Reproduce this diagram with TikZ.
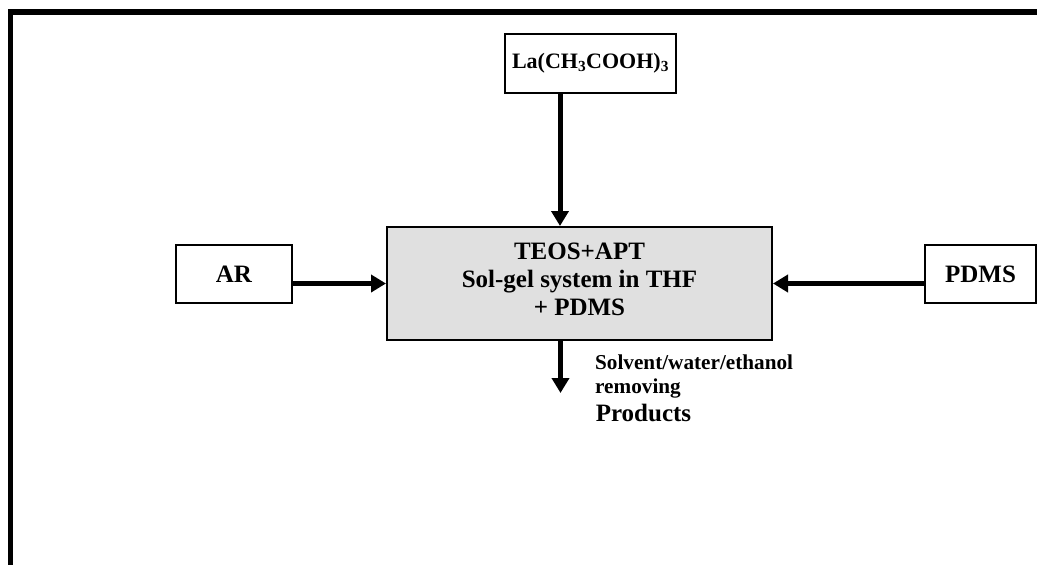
\documentclass[tikz,border=0pt]{standalone}
\usepackage{fontspec}
\setmainfont{Liberation Serif}
\usetikzlibrary{arrows.meta,positioning}

\tikzset{
    box/.style={draw, line width=2pt, inner sep=0pt, align=center,
        font=\fontsize{25}{28.3}\selectfont\bfseries},
    flow/.style={line width=5pt, -{Triangle[length=15pt,width=17pt]}},
    note/.style={inner sep=0pt, align=left, font=\bfseries}
}

\begin{document}
\begin{tikzpicture}[x=1pt, y=-1pt]

        \useasboundingbox (0,0) rectangle (1037,565);
        \clip (0,0) rectangle (1037,565);

        % outer frame, open to the right and bottom
        \draw[line width=5.5pt, miter limit=10] (10.5,570) -- (10.5,12) -- (1045,12);

        % reactor in the middle
        \node[box, fill=black!12, minimum width=385pt, minimum height=113pt]
            (mix) at (579.5,283.5) {};
        \node[inner sep=0pt, align=center, font=\fontsize{25}{28.3}\selectfont\bfseries]
            (mixtext) at ([yshift=4pt]mix.center) {TEOS+APT\\Sol-gel system in THF\\+ PDMS};

        % feeds
        \node[box, minimum width=171pt, minimum height=59pt,
            font=\fontsize{22}{26}\selectfont\bfseries] (la) at (590.5,63.5)
            {La(CH\textsubscript{3}COOH)\textsubscript{3}};
        \node[box, minimum width=116pt, minimum height=58pt] (ar) at (234,274) {AR};
        \node[box, minimum width=111pt, minimum height=58pt] (pdms) at (980.5,274) {PDMS};

        \coordinate (in) at ([xshift=-19.5pt]mix.north);
        \coordinate (out) at ([xshift=-19pt]mix.south);
        \coordinate (drain) at ([yshift=-52pt]out);

        \draw[flow] (la.south -| in) -- (in);
        \draw[flow] (ar.east |- mix.west) -- (mix.west);
        \draw[flow] (pdms.west |- mix.east) -- (mix.east);
        \draw[flow] (out) -- (drain);

        % what leaves the reactor
        \node[note, anchor=north west, font=\fontsize{21.2}{23.5}\selectfont\bfseries]
            (solv) at (595,355) {Solvent/water/ethanol\\removing};
        \node[note, font=\fontsize{25}{28}\selectfont\bfseries]
            (prod) at (643.5,413) {Products};

\end{tikzpicture}
\end{document}
